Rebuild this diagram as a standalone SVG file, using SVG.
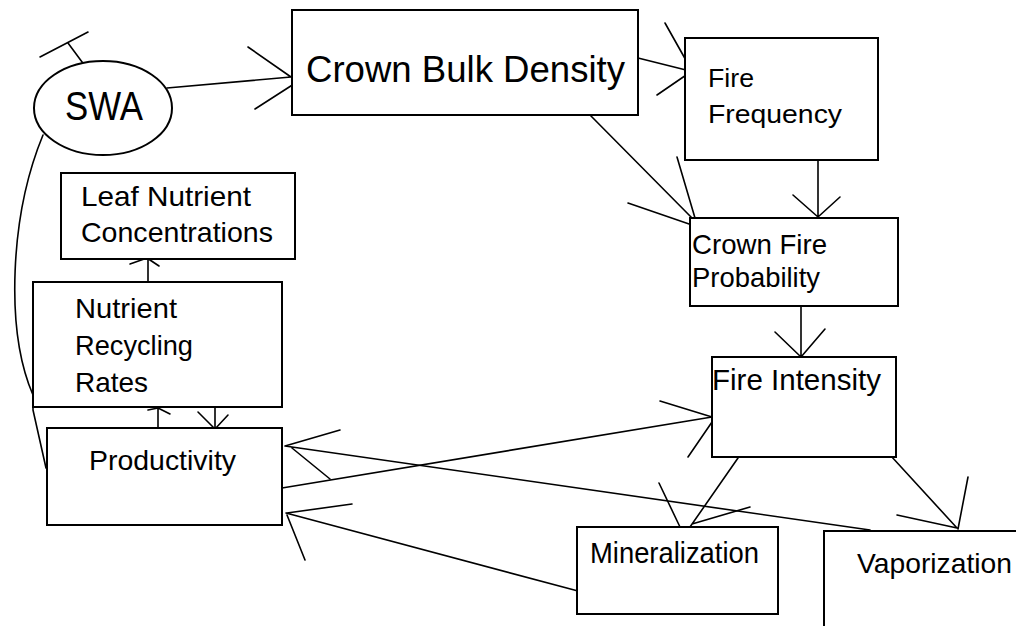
<svg xmlns="http://www.w3.org/2000/svg" width="1016" height="626" viewBox="0 0 1016 626">
<style>
.box{fill:#fff;stroke:#000;stroke-width:2}
.ln{fill:none;stroke:#000;stroke-width:1.6;stroke-linecap:round;stroke-linejoin:round}
.t{font-family:"Liberation Sans",Arial,sans-serif;font-size:28px;fill:#000}
</style>
<rect width="1016" height="626" fill="#fff"/>
<g id="connectors">
<path class="ln" d="M167,88 L291,77 M248,47 L291,77 M255,109 L297,82"/>
<path class="ln" d="M85,66 L68,43 M40,57 L88,32"/>
<path class="ln" d="M43,135 C10,215 5,330 33,395 L33,410 L46,468"/>
<path class="ln" d="M638,58 L690,71 M665,23 L692,71 L657,95"/>
<path class="ln" d="M590,115 L692,218 M677,157 L695,218 M628,203 L692,225"/>
<path class="ln" d="M818,161 L818,217 M793,195 L818,217 L840,197"/>
<path class="ln" d="M801,306 L801,357 M775,332 L801,357 L825,329"/>
<path class="ln" d="M738,458 L690,527 M659,483 L680,527 M750,507 L692,524"/>
<path class="ln" d="M891,456 L957,528 M968,477 L958,529 M897,515 L957,528"/>
<path class="ln" d="M282,488 L712,417 M660,401 L712,417 M688,457 L712,422"/>
<path class="ln" d="M870,530 L285,446 M340,430 L285,446 M330,479 L292,448"/>
<path class="ln" d="M578,591 L286,513 M352,504 L287,513 M305,560 L287,515"/>
<path class="ln" d="M148,282 L148,259 M130,264 L147,258 L159,266"/>
<path class="ln" d="M158,428 L158,409 M148,410 L158,408 L170,414"/>
<path class="ln" d="M215,406 L215,429 M198,412 L215,429 L228,415"/>
</g>
<g id="swa">
<ellipse class="box" cx="103" cy="108" rx="69" ry="47" fill="none"/>
<text class="t" x="65" y="120" style="font-size:40px" textLength="78" lengthAdjust="spacingAndGlyphs">SWA</text>
</g>
<g id="crown-bulk-density">
<rect class="box" x="292" y="10" width="346" height="105"/>
<text class="t" x="306" y="82" style="font-size:37px" textLength="319" lengthAdjust="spacingAndGlyphs">Crown Bulk Density</text>
</g>
<g id="fire-frequency">
<rect class="box" x="685" y="38" width="193" height="122"/>
<text class="t" x="708" y="87" style="font-size:25px" textLength="46" lengthAdjust="spacingAndGlyphs">Fire</text>
<text class="t" x="708" y="123" style="font-size:25px" textLength="134" lengthAdjust="spacingAndGlyphs">Frequency</text>
</g>
<g id="crown-fire-probability">
<rect class="box" x="690" y="218" width="208" height="88"/>
<text class="t" x="692" y="254" textLength="135" lengthAdjust="spacingAndGlyphs">Crown Fire</text>
<text class="t" x="692" y="287" textLength="128" lengthAdjust="spacingAndGlyphs">Probability</text>
</g>
<g id="fire-intensity">
<rect class="box" x="712" y="357" width="184" height="100"/>
<text class="t" x="712" y="390" style="font-size:30px" textLength="169" lengthAdjust="spacingAndGlyphs">Fire Intensity</text>
</g>
<g id="mineralization">
<rect class="box" x="577" y="527" width="201" height="87"/>
<text class="t" x="590" y="563" style="font-size:30px" textLength="169" lengthAdjust="spacingAndGlyphs">Mineralization</text>
</g>
<g id="vaporization">
<rect class="box" x="824" y="531" width="220" height="120"/>
<text class="t" x="857" y="573" textLength="155" lengthAdjust="spacingAndGlyphs">Vaporization</text>
</g>
<g id="productivity">
<rect class="box" x="47" y="428" width="235" height="97"/>
<text class="t" x="89" y="470" textLength="147" lengthAdjust="spacingAndGlyphs">Productivity</text>
</g>
<g id="nutrient-recycling-rates">
<rect class="box" x="33" y="282" width="249" height="125"/>
<text class="t" x="75" y="318" textLength="102" lengthAdjust="spacingAndGlyphs">Nutrient</text>
<text class="t" x="75" y="355" textLength="118" lengthAdjust="spacingAndGlyphs">Recycling</text>
<text class="t" x="75" y="392" textLength="73" lengthAdjust="spacingAndGlyphs">Rates</text>
</g>
<g id="leaf-nutrient-concentrations">
<rect class="box" x="61" y="173" width="234" height="86"/>
<text class="t" x="81" y="206" textLength="170" lengthAdjust="spacingAndGlyphs">Leaf Nutrient</text>
<text class="t" x="81" y="242" textLength="192" lengthAdjust="spacingAndGlyphs">Concentrations</text>
</g>
</svg>
